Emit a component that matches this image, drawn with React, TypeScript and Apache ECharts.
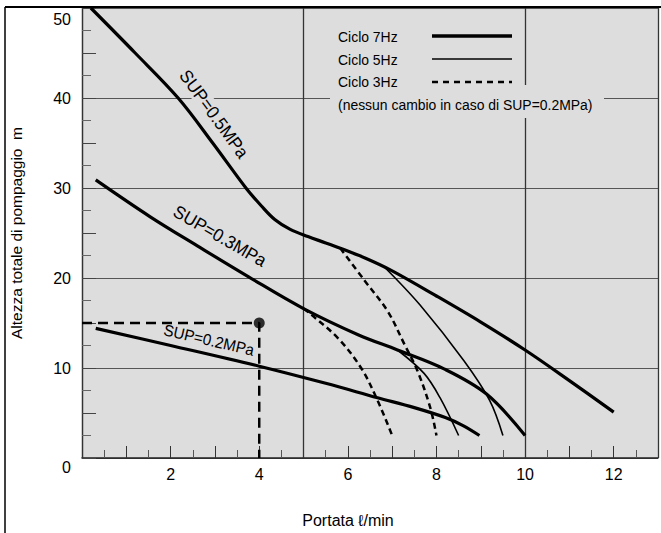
import React, { useEffect, useRef } from 'react';
import * as echarts from 'echarts';

// Portata (l/min) vs Altezza totale (m)
const sup05Hz7 = [[0.2, 50], [1.2, 45.0], [2.17, 40], [2.95, 35], [3.7, 30], [4.05, 28.0], [4.35, 26.5], [4.7, 25.4], [5.1, 24.6], [5.5, 23.9], [5.83, 23.3], [6.4, 22.2], [7, 20.8], [8, 18.0], [9, 15.1], [10, 12.0], [11, 8.6], [12, 5.1]];
const sup05Hz5 = [[6.83, 21.2], [7.63, 17.0], [8.62, 10.8], [9.2, 6.4], [9.5, 2.5]];
const sup05Hz3 = [[5.83, 23.3], [6.38, 19.7], [6.9, 16.3], [7.28, 12.6], [7.57, 9.7], [7.86, 5.6], [8.0, 2.5]];
const sup03Hz7 = [[0.31, 30.9], [1.54, 26.8], [2.66, 23.4], [3.77, 20.1], [5.0, 16.6], [6.23, 13.7], [7.12, 12.0], [8.17, 9.9], [9.13, 7.1], [10.0, 2.5]];
const sup03Hz5 = [[7.12, 12.0], [7.72, 9.4], [8.08, 6.7], [8.5, 2.5]];
const sup03Hz3 = [[5.0, 16.6], [5.18, 15.9], [5.78, 13.3], [6.3, 10.0], [6.67, 6.4], [7.0, 2.5]];
const sup02Hz7 = [[0.31, 14.4], [2, 12.5], [4, 10.2], [5.5, 8.3], [6.67, 6.7], [7.5, 5.6], [8.2, 4.5], [8.6, 3.6], [8.97, 2.5]];
const exampleGuide = [[0, 15], [4, 15], [4, 0]];
const examplePoint = [[4, 15]];

const xTickLabels = [2, 4, 6, 8, 10, 12];
const yTickLabels = [0, 10, 20, 30, 40, 50];
const legendNames = ['Ciclo 7Hz', 'Ciclo 5Hz', 'Ciclo 3Hz'];
const legendNote = '(nessun cambio in caso di SUP=0.2MPa)';
const curveLabels = ['SUP=0.5MPa', 'SUP=0.3MPa', 'SUP=0.2MPa'];
const xTitle = 'Portata \u2113/min';
const yTitle = 'Altezza totale di pompaggio  m';

const FONT = '"Liberation Sans", Arial, Helvetica, sans-serif';
const BG = '#dddddd';

export default function App() {
  const ref = useRef<HTMLDivElement>(null);
  useEffect(() => {
    if (!ref.current) return;
    const chart = echarts.init(ref.current, undefined, { renderer: 'svg' });
    const base = { type: 'line', symbol: 'none', showSymbol: false, smooth: 0.35, z: 3 };
    const thick = { ...base, lineStyle: { color: '#000', width: 3.2 } };
    const thin = { ...base, lineStyle: { color: '#000', width: 1.6 } };
    const dashed = { ...base, lineStyle: { color: '#000', width: 2.5, type: [6, 4] } };
    const deg = Math.PI / 180;
    const legendTexts = legendNames.map((n, i) => ({
      type: 'text', x: 338, y: 37 + i * 22.5, scaleX: 0.93, z: 5,
      style: { text: n, font: `15px ${FONT}`, fill: '#000', align: 'left', verticalAlign: 'middle' },
    }));
    const legendLines = [
      { type: 'line', z: 5, shape: { x1: 432, y1: 36, x2: 512, y2: 36 }, style: { stroke: '#000', lineWidth: 3.3 } },
      { type: 'line', z: 5, shape: { x1: 432, y1: 59, x2: 512, y2: 59 }, style: { stroke: '#000', lineWidth: 1.7 } },
      { type: 'line', z: 5, shape: { x1: 432, y1: 82, x2: 512, y2: 82 }, style: { stroke: '#000', lineWidth: 2.4, lineDash: [6, 5] } },
    ];
    const curveLabel = (text: string, x: number, y: number, rot: number, size: number) => ({
      type: 'text', x, y, rotation: rot * deg, scaleX: 0.95, z: 1,
      style: { text, font: `${size}px ${FONT}`, fill: '#000', align: 'center', verticalAlign: 'middle', backgroundColor: BG, padding: [0, 2] },
    });
    chart.setOption({
      animation: false,
      backgroundColor: '#fff',
      grid: { left: 81, top: 8, width: 582.4, height: 453, show: true, backgroundColor: BG, borderWidth: 0 },
      xAxis: [
        {
          type: 'value', min: 0, max: 13, interval: 1,
          axisLine: { show: true, lineStyle: { color: '#222', width: 1.5 } },
          axisTick: { show: true, inside: true, length: 12, lineStyle: { color: '#333', width: 1 } },
          minorTick: { show: true, splitNumber: 2, length: 8, lineStyle: { color: '#555', width: 1 } },
          splitLine: { show: false },
          axisLabel: {
            fontSize: 16, color: '#000', fontFamily: FONT, margin: 8,
            formatter: (v: number) => (xTickLabels.indexOf(v) >= 0 ? String(v) : ''),
          },
          name: xTitle, nameLocation: 'middle', nameGap: 54,
          nameTextStyle: { fontSize: 16, color: '#000', fontFamily: FONT, padding: [0, 44, 0, 0] },
        },
        {
          type: 'value', min: 0, max: 13, interval: 5, position: 'bottom',
          axisLine: { show: false }, axisTick: { show: false }, axisLabel: { show: false },
          splitLine: { show: true, lineStyle: { color: '#333', width: 1.3 } },
        },
      ],
      yAxis: [
        {
          type: 'value', min: 0, max: 50, interval: 5,
          axisLine: { show: true, lineStyle: { color: '#333', width: 1.2 } },
          axisTick: { show: true, inside: true, length: 14, lineStyle: { color: '#444', width: 1 } },
          minorTick: { show: true, splitNumber: 2, length: 9, lineStyle: { color: '#666', width: 1 } },
          splitLine: { show: false },
          axisLabel: {
            fontSize: 16, color: '#000', fontFamily: FONT, margin: 11,
            formatter: (v: number) => {
              if (yTickLabels.indexOf(v) < 0) return '';
              if (v === 0) return '{z|0}';
              if (v === 50) return '{t|50}';
              return String(v);
            },
            rich: {
              z: { fontSize: 16, color: '#000', fontFamily: FONT, padding: [18, 0, 0, 0] },
              t: { fontSize: 16, color: '#000', fontFamily: FONT, padding: [22, 0, 0, 0] },
            },
          },
          name: yTitle, nameLocation: 'middle', nameGap: 58, nameRotate: 90,
          nameTextStyle: { fontSize: 15.5, color: '#000', fontFamily: FONT },
        },
        {
          type: 'value', min: 0, max: 50, interval: 10, position: 'left',
          axisLine: { show: false }, axisTick: { show: false }, axisLabel: { show: false },
          splitLine: { show: true, lineStyle: { color: '#555', width: 1 } },
        },
      ],
      series: [
        { ...thick, name: 'Ciclo 7Hz', data: sup05Hz7 },
        { ...thin, name: 'Ciclo 5Hz', data: sup05Hz5 },
        { ...dashed, name: 'Ciclo 3Hz', data: sup05Hz3 },
        { ...thick, name: 'Ciclo 7Hz', data: sup03Hz7 },
        { ...thin, name: 'Ciclo 5Hz', data: sup03Hz5 },
        { ...dashed, name: 'Ciclo 3Hz', data: sup03Hz3 },
        { ...thick, name: 'Ciclo 7Hz', data: sup02Hz7 },
        { type: 'line', name: 'esempio', data: exampleGuide, symbol: 'none', smooth: false, z: 3, lineStyle: { color: '#000', width: 2.5, type: [10, 6] } },
        { type: 'scatter', name: 'punto', data: examplePoint, symbol: 'circle', symbolSize: 11, z: 4, itemStyle: { color: '#000' } },
      ],
      graphic: [
        { type: 'line', z: 6, shape: { x1: 5, y1: 7, x2: 661, y2: 7 }, style: { stroke: '#000', lineWidth: 2 } },
        { type: 'line', z: 6, shape: { x1: 5, y1: 7, x2: 5, y2: 533 }, style: { stroke: '#000', lineWidth: 1.5 } },
        { type: 'rect', z: 1, shape: { x: 330, y: 85, width: 274, height: 33 }, style: { fill: BG } },
        ...legendTexts,
        {
          type: 'text', x: 338, y: 105, scaleX: 0.93, z: 5,
          style: { text: legendNote, font: `15px ${FONT}`, fill: '#000', align: 'left', verticalAlign: 'middle' },
        },
        ...legendLines,
        curveLabel(curveLabels[0], 214, 114, -54, 18),
        curveLabel(curveLabels[1], 220, 236, -30, 18),
        curveLabel(curveLabels[2], 209, 340, -13, 16),
      ],
    });
    return () => chart.dispose();
  }, []);
  return <div ref={ref} style={{ position: 'absolute', left: 0, top: 0, width: 661, height: 533 }} />;
}
